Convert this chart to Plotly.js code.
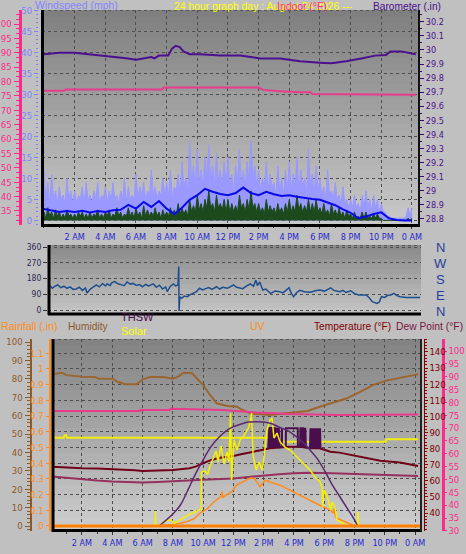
<!DOCTYPE html>
<html><head><meta charset="utf-8">
<script src="https://cdn.plot.ly/plotly-3.0.1.min.js"></script>
<style>html,body{margin:0;padding:0;background:#c0c0c0;}#chart{width:466px;height:554px;}</style>
</head><body><div id="chart"></div>
<script>
// ---------- DATA ----------
const hourTicks = [2,4,6,8,10,12,14,16,18,20,22,24];
const hourLabels = ['2 AM','4 AM','6 AM','8 AM','10 AM','12 PM','2 PM','4 PM','6 PM','8 PM','10 PM','0 AM'];

// sample times (hours) for wind records
const t8 = Array.from({length:193}, (_, i) => i * 0.125);
const t30 = Array.from({length:49}, (_, i) => i * 0.5);

const windHigh = [
  12,5,9,4,11,5,7,4, 8,5,6,4,10,5,7,4, 7,4,6,5,8,4,9,5, 6,4,7,5,9,4,6,5,
  8,4,7,5,9,5,6,4, 7,5,10,4,8,5,6,5, 11,5,8,6,9,5,7,6, 12,6,8,5,7,6,10,6,
  9,6,12,5,8,7,11,6, 14,8,10,7,19,9,13,8, 17,9,12,8,15,10,18,9, 13,8,16,9,12,8,14,9,
  15,8,11,7,13,9,17,8, 12,8,14,9,19,10,13,8, 12,7,10,8,14,7,11,8, 9,6,13,7,10,6,12,7,
  14,7,11,8,15,7,12,8, 10,6,17,8,11,6,13,7, 10,6,8,5,12,6,7,5, 9,5,6,4,8,4,5,3,
  5,3,6,3,4,2,6,3, 7,3,5,2,6,3,5,2, 4,2,2,1,1,0.5,0.5,0.5, 0.5,0.5,0.5,0.5,0.5,1,3,1, 3];
const windSpeed = [
  2,0.5,3,1,2,0.5,2.5,1, 2,0.5,1.5,0.5,2.5,1,1.5,0.5, 1.5,0.5,2,1,2,0.5,1.5,0.5, 2,0.5,1.5,1,2.5,0.5,1.5,0.5,
  2,1,2.5,0.5,1.5,1,3,1, 2,0.5,1.5,1,3,1,2,0.5, 3,1,2,0.5,3.5,1,2.5,1, 2,1,3,1,2,0.5,2.5,1,
  2,1,3,1,2.5,1,4,1.5, 3,1.5,2.5,1,5,2,3.5,2, 6,2.5,4,2,5,3,7,3, 4,2,6,3,4,2.5,5,2,
  5,2,4,2,3.5,2,6,3, 4,2,5,2.5,7,3,4,2, 4,2,3,1.5,5,2,3.5,2, 3,1.5,4,2,3,1.5,4,2,
  5,2,3.5,2,6,2.5,4,2, 3.5,2,5,2,4,2,5,2, 3,1.5,4,1.5,2.5,1,4,1.5, 2.5,1,3,1,2,0.5,2.5,1,
  1.5,0.5,2,0.5,1,0.5,2,0.5, 2,0.5,1,0.5,1.5,0.5,1.5,0.5, 0.5,0,0,0,0,0,0,0, 0,0,0,0,0,0,0.5,0, 0.5];
const windAvg = [2.7,2.3,2.0,2.2,2.0,2.3,1.9,2.2,2.0,2.4,2.5,3.7,2.8,4.4,3.2,4.6,2.8,1.5,3.0,4.9,
  6.0,7.5,6.8,6.3,6.0,6.5,7.8,6.5,6.0,6.8,6.2,5.8,6.0,5.6,5.3,5.1,4.9,4.3,3.6,2.6,
  1.8,0.5,0.9,1.5,1.9,0.5,0.1,0,0];

const baroHours = [0,0.5,1,2,3,4,5,5.5,6,6.5,7,7.2,7.5,8.1,8.35,8.6,8.85,9.1,9.5,10.2,11.5,12.8,14.1,15.4,16.7,18.0,18.7,19.0,19.7,20.7,21.6,22.3,22.6,23.3,23.9,24.25];
const baroInHg = [29.97,29.975,29.98,29.98,29.97,29.96,29.95,29.94,29.93,29.94,29.95,29.94,29.96,29.96,30.01,30.03,30.02,29.99,29.97,29.97,29.96,29.96,29.94,29.94,29.92,29.91,29.905,29.91,29.92,29.94,29.96,29.965,29.99,29.99,29.98,29.97];

const inTempHours = [0,1.3,1.4,7.7,7.8,14.0,14.3,15.4,16.7,17.4,17.5,20,24.25];
const inTempF = [76.8,76.8,77.2,77.2,77.9,77.9,77.1,76.6,76.3,76.3,75.7,75.6,75.4];

const dirHours = [0,0.15,0.3,0.5,0.7,0.9,1.1,1.3,1.5,1.7,1.9,2.1,2.3,2.4,2.6,2.8,3.0,3.2,3.4,3.6,3.7,3.9,4.0,4.2,4.4,4.6,4.8,5.0,5.2,5.4,5.6,5.8,6.0,6.2,6.4,6.7,6.9,7.1,7.3,7.5,7.6,7.8,8.0,8.15,8.3,8.35,8.37,8.42,8.55,8.7,8.9,9.1,9.3,9.5,9.7,9.9,10.1,10.3,10.5,10.8,11.0,11.2,11.5,11.7,11.9,12.1,12.3,12.5,12.8,13.0,13.2,13.35,13.45,13.6,13.8,14.0,14.3,14.6,14.9,15.1,15.3,15.5,15.65,15.8,16.0,16.2,16.5,16.9,17.2,17.5,17.8,18.0,18.2,18.4,18.6,18.8,19.0,19.2,19.5,19.7,20.0,20.3,20.5,20.7,20.9,21.2,21.35,21.5,21.7,21.9,22.1,22.3,22.5,22.7,23.1,24];
const dirDeg = [139,124,135,143,128,136,124,132,118,120,130,112,126,97,118,130,143,132,150,138,149,140,155,162,150,145,139,160,148,152,140,145,133,146,138,149,130,142,120,132,105,135,149,138,143,248,-5,75,67,80,76,88,95,105,124,115,122,128,118,133,120,130,124,135,143,130,126,122,140,149,135,171,140,160,114,120,95,108,105,98,112,127,95,76,100,112,104,102,110,114,108,118,127,112,108,105,112,100,110,96,86,88,86,70,48,38,45,76,72,84,86,95,82,76,72,72];

const humHours = [0,0.3,0.66,1.0,2.0,2.86,3.1,4.05,4.3,4.84,5.6,6.0,6.5,7.35,8.0,8.4,8.7,9.27,9.6,10.0,10.46,10.9,11.6,12.2,12.5,13.1,14.4,15.7,16.9,17.7,18.6,19.5,20.4,21.2,22.1,23.0,23.9,24.2];
const humidity = [82.4,83,83.3,82,81.1,81,80,80,78.5,77,77,79.7,81,81,80,81.5,83.3,83,80,76.6,71.2,66.7,65.2,65,63.5,61.2,60.3,61.4,62.5,64.8,67,69.4,73,76.6,79,80.3,82,82.6];

const inHumHours = [0,0.8,0.85,0.95,1.0,14.55,14.6,22.05,22.1,24.2];
const inHumidity = [48,48,49.3,49.3,48,48,45.8,45.8,47.1,47.1];

const inTemp2Hours = [0,5.8,5.85,7.8,7.85,9.0,11.3,13.5,15.7,19.0,24.2];
const inTemp2F = [76.6,76.6,77,77,77.5,77.4,77,76.1,75.5,75.1,75.3];

const tempHours = [0,1,2,3,4.5,5.5,6,7,8,9.1,9.5,10,10.5,11.1,12,12.5,13.1,13.8,14.4,15.7,16.4,17.1,17.7,18.4,19,20.4,21.7,23,24.2];
const tempF = [68.8,68.2,67.8,67.6,67.2,66.6,66.1,66.3,66.7,67.8,68.8,70.9,72.8,74.3,75.4,76.5,77.5,79,80.2,81.2,81.2,80.2,80.2,78.1,77.5,75,72.5,71.3,69.2];

const dewHours = [0,1,2,3,4,5,6,7,8,9,10,11,12,13,14,15,16,17,18,19,20,21,22,23,24.2];
const dewF = [51.2,50.6,50.0,49.6,49.2,48.9,48.8,49.0,49.2,49.6,49.9,50.2,50.4,51.0,51.6,52.0,52.4,52.6,52.5,52.3,52.0,51.8,51.6,51.4,51.3];

const thswHours = [14.30,14.37,14.40,14.44,14.48,14.52,14.56,14.60,14.64,14.68,14.72,14.76,14.80,14.84,14.88,14.92,14.96,15.00,15.03,
  15.18,15.20,15.22, 15.46,15.47,16.25,16.26,
  16.40,16.43,16.47,16.51,16.55,16.59,16.63,16.67,16.71,16.75,16.79,
  17.06,17.09,17.13,17.17,17.21,17.25,17.29,17.33,17.36,17.40,17.44,17.48,17.52,17.56,17.60,17.64,17.68,17.72,17.75,17.8];
const thswF = [80.3,93.4,80.5,93.4,80.5,93.4,80.6,93.2,80.6,93.2,80.7,93.2,80.7,93.0,80.8,93.0,80.8,93.0,80.9,
  81.0,92.8,81.0, 81.1,92.6,92.6,81.2,
  81.2,93.2,81.2,93.2,81.1,93.2,81.0,93.0,80.9,93.0,80.8,
  80.3,92.6,80.3,92.6,80.3,92.6,80.3,92.6,80.3,92.6,80.3,92.6,80.2,92.6,80.2,92.6,80.2,92.6,80.2,80.1];

const solarHours = [0,6.84,6.85,6.87,7.15,7.48,7.81,8.14,8.47,8.8,9.13,9.46,9.79,9.86,9.89,10.13,10.3,10.46,10.65,10.85,10.98,11.18,11.38,11.58,11.71,11.81,11.88,12.04,12.24,12.44,12.64,12.84,13.03,13.2,13.3,13.5,13.7,13.89,14.02,14.22,14.42,14.55,14.68,14.88,15.08,15.41,15.74,16.07,16.4,16.73,17.06,17.39,17.72,17.85,17.9,17.99,18.18,18.32,18.41,18.51,18.71,18.85,19.04,19.3,19.57,20.2,20.23,20.26,24.2];
const solarWm2 = [0,0,80,0,5,27,33,16,33,49,65,76,87,92,293,299,280,326,364,408,348,435,337,402,348,614,250,467,413,467,484,511,538,614,386,304,348,304,370,522,576,587,478,505,457,429,413,386,359,332,304,266,239,212,103,196,163,125,87,130,103,33,22,11,0,0,76,0,0];

const solarMaxHours = [7.1,8,8.5,9,9.5,10,10.5,11,11.5,12,12.5,13,13.5,14,14.5,15,15.5,16,16.5,17,17.5,18,18.5,19,19.5,20,20.2];
const solarMaxWm2 = [0,65,114,196,283,359,429,478,516,540,554,565,567,565,557,538,522,495,462,418,370,304,228,163,98,33,0];

const uvHours = [0,7.0,8.0,8.5,9.0,9.4,9.8,10.3,10.7,11.2,11.25,11.3,11.9,12.2,12.4,13.1,13.4,13.76,14.1,14.42,15.08,15.7,16.4,17.06,17.7,18.4,18.6,18.65,18.7,18.8,19.5,19.9,20.2,24.2];
const uvIndex = [0,0,0.2,0.35,0.6,0.9,1.6,2.2,3.0,3.7,4.3,3.6,4.3,5.1,5.3,6.0,5.9,4.9,5.75,5.5,5.1,4.5,3.9,3.25,2.6,2.0,1.6,2.2,1.5,1.0,0.4,0.1,0,0];

const rainHours = [0,24.35];
const rainIn = [0,0];

// ---------- LAYOUT HELPERS ----------
const W = 466, H = 554;
const px = x => x / W;
const py = y => 1 - y / H;
const FONT = 'Liberation Sans, Arial, sans-serif';
const NARROW = 'Liberation Sans Narrow, Arial Narrow, DejaVu Sans Condensed, Liberation Sans, sans-serif';
const GRID = '#4e4e4e';

function grad(x0, x1, y0, y1, c0, c1, n) {
  const out = [];
  for (let i = 0; i < n; i++) {
    const f = (i + 0.5) / n;
    const c = Math.round(c0 + (c1 - c0) * f);
    const ya = y0 + (y1 - y0) * i / n, yb = y0 + (y1 - y0) * (i + 1) / n + 0.6;
    out.push({type:'rect', xref:'paper', yref:'paper', layer:'below',
      x0:px(x0), x1:px(x1), y0:py(yb), y1:py(ya),
      fillcolor:`rgb(${c},${c},${c})`, line:{width:0}});
  }
  return out;
}
function hline(x0, x1, y, color, w, dash) {
  return {type:'line', xref:'paper', yref:'paper', x0:px(x0), x1:px(x1), y0:py(y), y1:py(y), line:{color, width:w, dash:dash||'solid'}};
}
function vline(x, y0, y1, color, w) {
  return {type:'line', xref:'paper', yref:'paper', x0:px(x), x1:px(x), y0:py(y0), y1:py(y1), line:{color, width:w}};
}

const shapes = [
  ...grad(42, 419, 10, 225, 126, 202, 32),
  ...grad(48, 421, 245, 313, 136, 198, 14),
  ...grad(52, 421, 339, 530, 130, 206, 30),
  hline(42, 419, 10.5, '#555', 1, 'dot'),
  vline(42.5, 10, 227, '#000', 3),
  hline(41, 420, 225.5, '#000', 3),
  vline(419, 10, 226, '#111', 2),
  hline(48, 421, 245.5, '#555', 1, 'dot'),
  vline(49, 245, 315, '#000', 3),
  hline(48, 421, 314, '#000', 3),
  hline(52, 421, 339.5, '#555', 1, 'dot'),
  vline(53, 339, 532, '#000', 3),
  hline(52, 422, 530.5, '#000', 3),
  vline(421, 339, 531, '#222', 2),
];

const xTickBase = {tickvals:hourTicks, ticktext:hourLabels, tickfont:{family:NARROW, size:9, color:'#2828d2'},
  ticks:'outside', ticklen:3, tickcolor:'#333', showgrid:true, gridcolor:GRID, griddash:'dot', gridwidth:1,
  zeroline:false, showline:false, minor:{dtick:1, tick0:0, ticks:'outside', ticklen:2, tickcolor:'#333', showgrid:false}};

const tf = (c, s) => ({family:NARROW, size:s || 9.5, color:c});

const layout = {
  width:W, height:H, margin:{l:0, r:0, t:0, b:0},
  paper_bgcolor:'#c0c0c0', plot_bgcolor:'rgba(0,0,0,0)', showlegend:false,
  font:{family:FONT},
  xaxis: Object.assign({domain:[px(42), px(419)], range:[-0.13, 24.46], anchor:'y'}, xTickBase),
  yaxis: {domain:[py(225), py(10)], range:[-1.1, 50.05], anchor:'free', position:px(38), side:'left',
    tick0:0, dtick:5, ticks:'outside', ticklen:4, tickcolor:'#8080ff', tickfont:tf('#8080ff'),
    showgrid:true, gridcolor:GRID, griddash:'dot', zeroline:false, showline:false,
    minor:{dtick:1, ticks:'outside', ticklen:2, tickcolor:'#8080ff', showgrid:false}},
  yaxis2: {overlaying:'y', anchor:'free', position:px(19.5), side:'left', range:[30.13, 104.87],
    tick0:35, dtick:5, showline:true, linecolor:'#ff2a8a', linewidth:3, ticks:'outside', ticklen:5,
    tickcolor:'#ff2a8a', tickfont:tf('#ff2a8a'), showgrid:false, zeroline:false,
    minor:{dtick:5/3, ticks:'outside', ticklen:3, tickcolor:'#ff2a8a', showgrid:false}},
  yaxis3: {overlaying:'y', anchor:'x', side:'right', range:[28.757, 30.284], tick0:28.8, dtick:0.1,
    ticks:'outside', ticklen:4, tickcolor:'#3a0a70', tickfont:tf('#4b0f8c', 9), showgrid:false, zeroline:false,
    showline:false, minor:{dtick:0.05, ticks:'outside', ticklen:2, tickcolor:'#3a0a70', showgrid:false}},
  xaxis2: {domain:[px(48), px(421)], range:[-0.13, 24.06], anchor:'y4', showticklabels:false, ticks:'',
    showgrid:false, zeroline:false, showline:false},
  yaxis4: {domain:[py(313), py(245)], anchor:'x2', range:[-17.1, 371.4], tickvals:[0,90,180,270,360],
    ticks:'outside', ticklen:4, tickcolor:'#333', tickfont:tf('#2b2b50', 8.5),
    showgrid:true, gridcolor:GRID, griddash:'dot', zeroline:false, showline:false},
  xaxis3: Object.assign({domain:[px(52), px(421)], range:[0.02, 24.39], anchor:'y6'}, xTickBase),
  yaxis6: {domain:[py(531), py(339)], anchor:'free', position:px(30.5), side:'left', range:[-2.72, 101.63],
    tick0:0, dtick:10, showline:true, linecolor:'#8b5a2b', linewidth:2, ticks:'outside', ticklen:5,
    tickcolor:'#8b5a2b', tickfont:tf('#8b5a2b'), showgrid:false, zeroline:false,
    minor:{dtick:2, ticks:'outside', ticklen:3, tickcolor:'#8b5a2b', showgrid:false}},
  yaxis7: {overlaying:'y6', anchor:'free', position:px(442.5), side:'right', range:[29.94, 104.67],
    tick0:35, dtick:5, showline:true, linecolor:'#ff2a8a', linewidth:3, ticks:'outside', ticklen:2,
    tickcolor:'#ff2a8a', tickfont:tf('#ff2a8a'), showgrid:false, zeroline:false},
  yaxis8: {overlaying:'y6', anchor:'free', position:px(423.5), side:'right', range:[28.82, 148.07],
    tickvals:[40,50,60,70,80,90,100,110,120,130,140], showline:true, linecolor:'#800000', linewidth:1,
    ticks:'outside', ticklen:3, tickcolor:'#800000', tickfont:tf('#800000'), showgrid:false, zeroline:false,
    minor:{dtick:2, ticks:'outside', ticklen:2, tickcolor:'#800000', showgrid:false}},
  yaxis9: {overlaying:'y6', range:[-0.625, 23.375], visible:false},
  yaxis10: {overlaying:'y6', range:[-27.2, 1016.3], visible:false},
  yaxis11: {overlaying:'y6', anchor:'free', position:px(49.5), side:'left', range:[-0.032, 1.191],
    tick0:0, dtick:0.1, showline:true, linecolor:'#ff8c1a', linewidth:2, ticks:'outside', ticklen:3,
    tickcolor:'#ff8c1a', tickfont:tf('#ff8c1a'), showgrid:true, gridcolor:GRID, griddash:'dot', zeroline:false},
  shapes: shapes,
  annotations: []
};

function label(text, x, y, color, size, anchor) {
  return {text, x:px(x), y:py(y), xref:'paper', yref:'paper', showarrow:false,
    xanchor:anchor || 'left', yanchor:'middle', font:{family:FONT, size:size || 10.5, color}, borderpad:0};
}
layout.annotations.push(
  label('Windspeed (mph)', 34, 5, '#8484ff', 10.5),
  label('24 hour graph day : August 24 2026 ---', 173, 6, '#ffff00', 10.4),
  label('Indoor (°F)', 276, 6, '#ff2a8a', 10.4),
  label('Barometer (.in)', 372, 6, '#4b0f8c', 10.2),
  label('N', 440, 247, '#1f3f9a', 13, 'center'),
  label('W', 440, 263, '#1f3f9a', 13, 'center'),
  label('S', 440, 279, '#1f3f9a', 13, 'center'),
  label('E', 440, 295, '#1f3f9a', 13, 'center'),
  label('N', 440, 311, '#1f3f9a', 13, 'center'),
  label('Rainfall (.in)', 0, 326, '#ff8c1a', 10.6),
  label('Humidity', 67, 326, '#8b5a2b', 10.2),
  label('THSW', 120, 317, '#4b0a4b', 11),
  label('Solar', 120, 331, '#ffff00', 11),
  label('UV', 249, 326, '#ff8c1a', 10.5),
  label('Temperature (°F)', 313, 326, '#800000', 10.2),
  label('Dew Point (°F)', 395, 326, '#7a1540', 10.3)
);

const L = (x, y, xa, ya, color, width, extra) => Object.assign({type:'scatter', mode:'lines', x, y, xaxis:xa, yaxis:ya,
  line:{color, width}, hoverinfo:'skip'}, extra || {});

const traces = [
  L(t8, windHigh, 'x', 'y', '#9999ff', 1, {fill:'tozeroy', fillcolor:'#9999ff'}),
  L(t8, windSpeed, 'x', 'y', '#1c4a1c', 1, {fill:'tozeroy', fillcolor:'#1c4a1c'}),
  L(t30, windAvg, 'x', 'y', '#0a0ae6', 2),
  L(inTempHours, inTempF, 'x', 'y2', '#ea3a8c', 2),
  L(baroHours, baroInHg, 'x', 'y3', '#4a1090', 2),
  L(dirHours, dirDeg, 'x2', 'y4', '#1d4f8f', 1.5),
  L(inHumHours, inHumidity, 'x3', 'y6', '#f0ee10', 2),
  L(humHours, humidity, 'x3', 'y6', '#9b6530', 2),
  L(inTemp2Hours, inTemp2F, 'x3', 'y7', '#ea3a8c', 2),
  L(dewHours, dewF, 'x3', 'y7', '#96305e', 2),
  L(tempHours, tempF, 'x3', 'y8', '#700018', 2),
  L(thswHours, thswF, 'x3', 'y8', '#4a0e4e', 2),
  L(uvHours, uvIndex, 'x3', 'y9', '#ff8c1a', 1.5),
  L(solarHours, solarWm2, 'x3', 'y10', '#f4f000', 1.5),
  L(solarMaxHours, solarMaxWm2, 'x3', 'y10', '#5c2a6e', 1.5, {line:{color:'#5c2a6e', width:1.5, shape:'spline'}}),
  L(rainHours, rainIn, 'x3', 'y11', '#ff8000', 3)
];

Plotly.newPlot('chart', traces, layout, {displayModeBar:false, staticPlot:true});
</script></body></html>
